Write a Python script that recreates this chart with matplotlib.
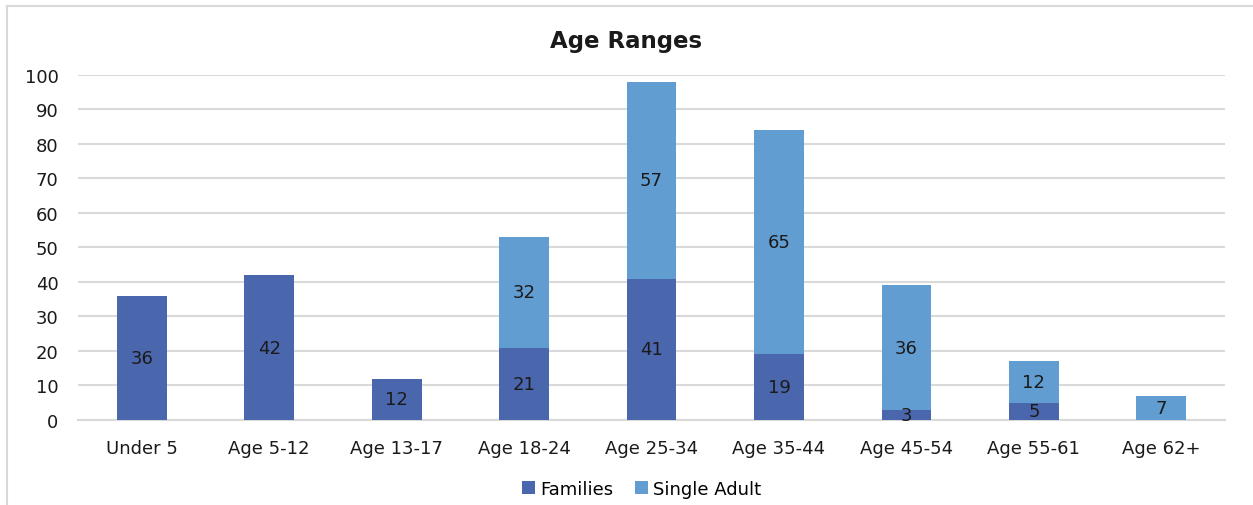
import matplotlib
matplotlib.use("Agg")
import matplotlib.pyplot as plt
import numpy as np
from matplotlib.lines import Line2D

categories = ["Under 5", "Age 5-12", "Age 13-17", "Age 18-24", "Age 25-34",
              "Age 35-44", "Age 45-54", "Age 55-61", "Age 62+"]
families = [36, 42, 12, 21, 41, 19, 3, 5, 0]
single_adult = [0, 0, 0, 32, 57, 65, 36, 12, 7]
y_ticks = [0, 10, 20, 30, 40, 50, 60, 70, 80, 90, 100]

c_fam = "#4A66AC"
c_single = "#629DD1"
grid_c = "#D9D9D9"

plt.rcParams["font.family"] = ["DejaVu Sans"]

fig = plt.figure(figsize=(12.53, 5.06), dpi=100)
ax = fig.add_axes([0.0623, 0.168, 0.9154, 0.682])

x = np.arange(len(categories))
w = 0.39
b1 = ax.bar(x, families, w, color=c_fam, label="Families", zorder=3)
b2 = ax.bar(x, single_adult, w, bottom=families, color=c_single,
            label="Single Adult", zorder=3)

for i in range(len(categories)):
    if families[i] > 0:
        ax.text(x[i], families[i] / 2, str(families[i]), ha="center",
                va="center", fontsize=13, color="#1a1a1a", zorder=4)
    if single_adult[i] > 0:
        ax.text(x[i], families[i] + single_adult[i] / 2, str(single_adult[i]),
                ha="center", va="center", fontsize=13, color="#1a1a1a", zorder=4)

ax.set_xlim(-0.5, len(categories) - 0.5)
ax.set_ylim(0, 100)
ax.set_yticks(y_ticks)
ax.set_xticks(x)
ax.set_xticklabels(categories)
ax.tick_params(axis="both", length=0, labelsize=13, colors="#1a1a1a")
ax.tick_params(axis="x", pad=14)
ax.tick_params(axis="y", pad=14)
ax.yaxis.grid(True, color=grid_c, linewidth=1.5, zorder=0)
ax.set_axisbelow(True)
for s in ["top", "right", "left"]:
    ax.spines[s].set_visible(False)
ax.spines["bottom"].set_color(grid_c)
ax.spines["bottom"].set_linewidth(1.5)

fig.text(0.5, 0.918, "Age Ranges", ha="center", va="center",
         fontsize=16.5, fontweight="bold", color="#1a1a1a")

fig.legend(handles=[b1, b2], loc="center", bbox_to_anchor=(0.512, 0.032),
           ncol=2, frameon=False, fontsize=13, handlelength=0.7,
           handleheight=0.7, handletextpad=0.3, columnspacing=1.2)

# chart area frame
fig.add_artist(Line2D([7 / 1253, 7 / 1253], [0, 1 - 7 / 506],
                      transform=fig.transFigure, color=grid_c, linewidth=1.5))
fig.add_artist(Line2D([7 / 1253, 1], [1 - 7 / 506, 1 - 7 / 506],
                      transform=fig.transFigure, color=grid_c, linewidth=1.5))

fig.savefig("out.png", dpi=100, facecolor="white")
